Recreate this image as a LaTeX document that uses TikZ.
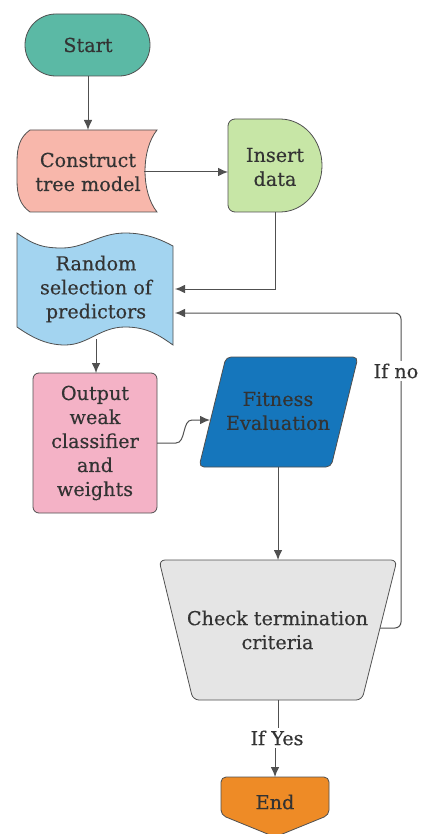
\documentclass[tikz,border=0pt]{standalone}
\usepackage{fontspec}
\setmainfont[FakeBold=0.35]{DejaVu Serif}
\usetikzlibrary{arrows.meta}

\definecolor{inkgray}{HTML}{333333}
\definecolor{linegray}{HTML}{505050}
\definecolor{startfill}{HTML}{5BB9A5}
\definecolor{buildfill}{HTML}{F8B7AB}
\definecolor{datafill}{HTML}{C7E6A6}
\definecolor{randfill}{HTML}{A3D4F0}
\definecolor{outfill}{HTML}{F4B2C6}
\definecolor{fitfill}{HTML}{1576BC}
\definecolor{checkfill}{HTML}{E5E5E5}
\definecolor{endfill}{HTML}{EE8B26}

\begin{document}
\begin{tikzpicture}[x=1pt,y=-1pt,
  outline/.style={draw=linegray, line width=0.8pt},
  caption/.style={font=\fontsize{19.2}{24}\selectfont, text=inkgray, align=center, inner sep=0pt},
  tag/.style={caption, fill=white, inner sep=2.5pt},
  link/.style={draw=linegray, line width=1pt},
  flow/.style={link, -{Latex[length=10pt,width=8.5pt]}}]

\useasboundingbox (0,0) rectangle (422,834);
\fill[white] (0,0) rectangle (422,834);

% ---------- shapes ----------
% start terminal
\draw[outline, fill=startfill, rounded corners=30.9pt] (25,14) rectangle (150,76);
% stored-data shape
\draw[outline, fill=buildfill] (30,130) -- (157,130)
  .. controls (141,150) and (141,192) .. (157,212) -- (30,212)
  .. controls (20,205) and (17,195) .. (17,180) -- (17,162)
  .. controls (17,147) and (20,137) .. (30,130) -- cycle;
% delay shape
\draw[outline, fill=datafill] (280,212) [rounded corners=7pt] -- (228,212) -- (228,119) [sharp corners] -- (280,119)
  arc[start angle=-90, end angle=90, x radius=42, y radius=46.5] -- cycle;
% punched tape
\draw[outline, fill=randfill] (17,233)
  .. controls (35,246) and (45,248) .. (62,248)
  .. controls (85,248) and (100,233) .. (125,233)
  .. controls (145,233) and (160,239) .. (173,246)
  -- (173,345)
  .. controls (160,336) and (148,327) .. (125,327)
  .. controls (100,327) and (88,345) .. (65,345)
  .. controls (45,345) and (30,336) .. (17,327) -- cycle;
% process box
\draw[outline, fill=outfill, rounded corners=6pt] (33,373) rectangle (157,513);
% data parallelogram
\draw[outline, fill=fitfill, rounded corners=5pt] (226,357) -- (358,357) -- (331,467) -- (199,467) -- cycle;
% manual operation trapezoid
\draw[outline, fill=checkfill, rounded corners=6pt] (159,560) -- (397,560) -- (362,700) -- (193,700) -- cycle;
% off-page connector
\draw[outline, fill=endfill, rounded corners=5pt] (221,777) -- (329,777) -- (329,815) -- (275,837) -- (221,815) -- cycle;

% ---------- texts ----------
\node[caption] (start) at (88,45) {Start};
\node[caption] (build) at (88,172) {Construct\\tree model};
\node[caption] (data) at (275,167) {Insert\\data};
\node[caption] (rand) at (96,289) {Random\\selection of\\predictors};
\node[caption] (out) at (95,443) {Output\\weak\\classifier\\and\\weights};
\node[caption] (fit) at (278,411) {Fitness\\Evaluation};
\node[caption] (check) at (277.5,630) {Check termination\\criteria};
\node[caption] (end) at (275,802) {End};

% ---------- connection points ----------
\coordinate (start-s) at (88,76);
\coordinate (build-n) at (88,130);
\coordinate (build-e) at (144,172);
\coordinate (data-w) at (228,172);
\coordinate (data-s) at (275,212);
\coordinate (rand-e1) at (175,289);
\coordinate (rand-e2) at (175,313);
\coordinate (rand-s) at (96,339);
\coordinate (out-n) at (96,373);
\coordinate (out-e) at (157,443);
\coordinate (fit-w) at (210,420);
\coordinate (fit-s) at (278,467);
\coordinate (check-n) at (278,560);
\coordinate (check-e) at (380,628);
\coordinate (check-s) at (278,700);
\coordinate (end-n) at (275,777);
\coordinate (loop-r) at (401,628);

% ---------- connectors ----------
\draw[flow] (start-s) -- (build-n);
\draw[flow] (build-e) -- (data-w);
\draw[flow] (data-s) |- (rand-e1);
\draw[flow] (rand-s) -- (out-n);
\draw[flow] (out-e) -- (176,443) .. controls (186,443) and (182,420) .. (192,420) -- (fit-w);
\draw[flow] (fit-s) -- (check-n);
\draw[flow, rounded corners=6pt] (check-e) -- (loop-r) |- (rand-e2);
\node[tag, anchor=east] (ifno) at (421,371) {If no};
\node[tag] (ifyes) at (277,738) {If Yes};
\draw[link] (check-s) -- (ifyes.north -| check-s);
\draw[flow] (ifyes.south -| end-n) -- (end-n);

\end{tikzpicture}
\end{document}
